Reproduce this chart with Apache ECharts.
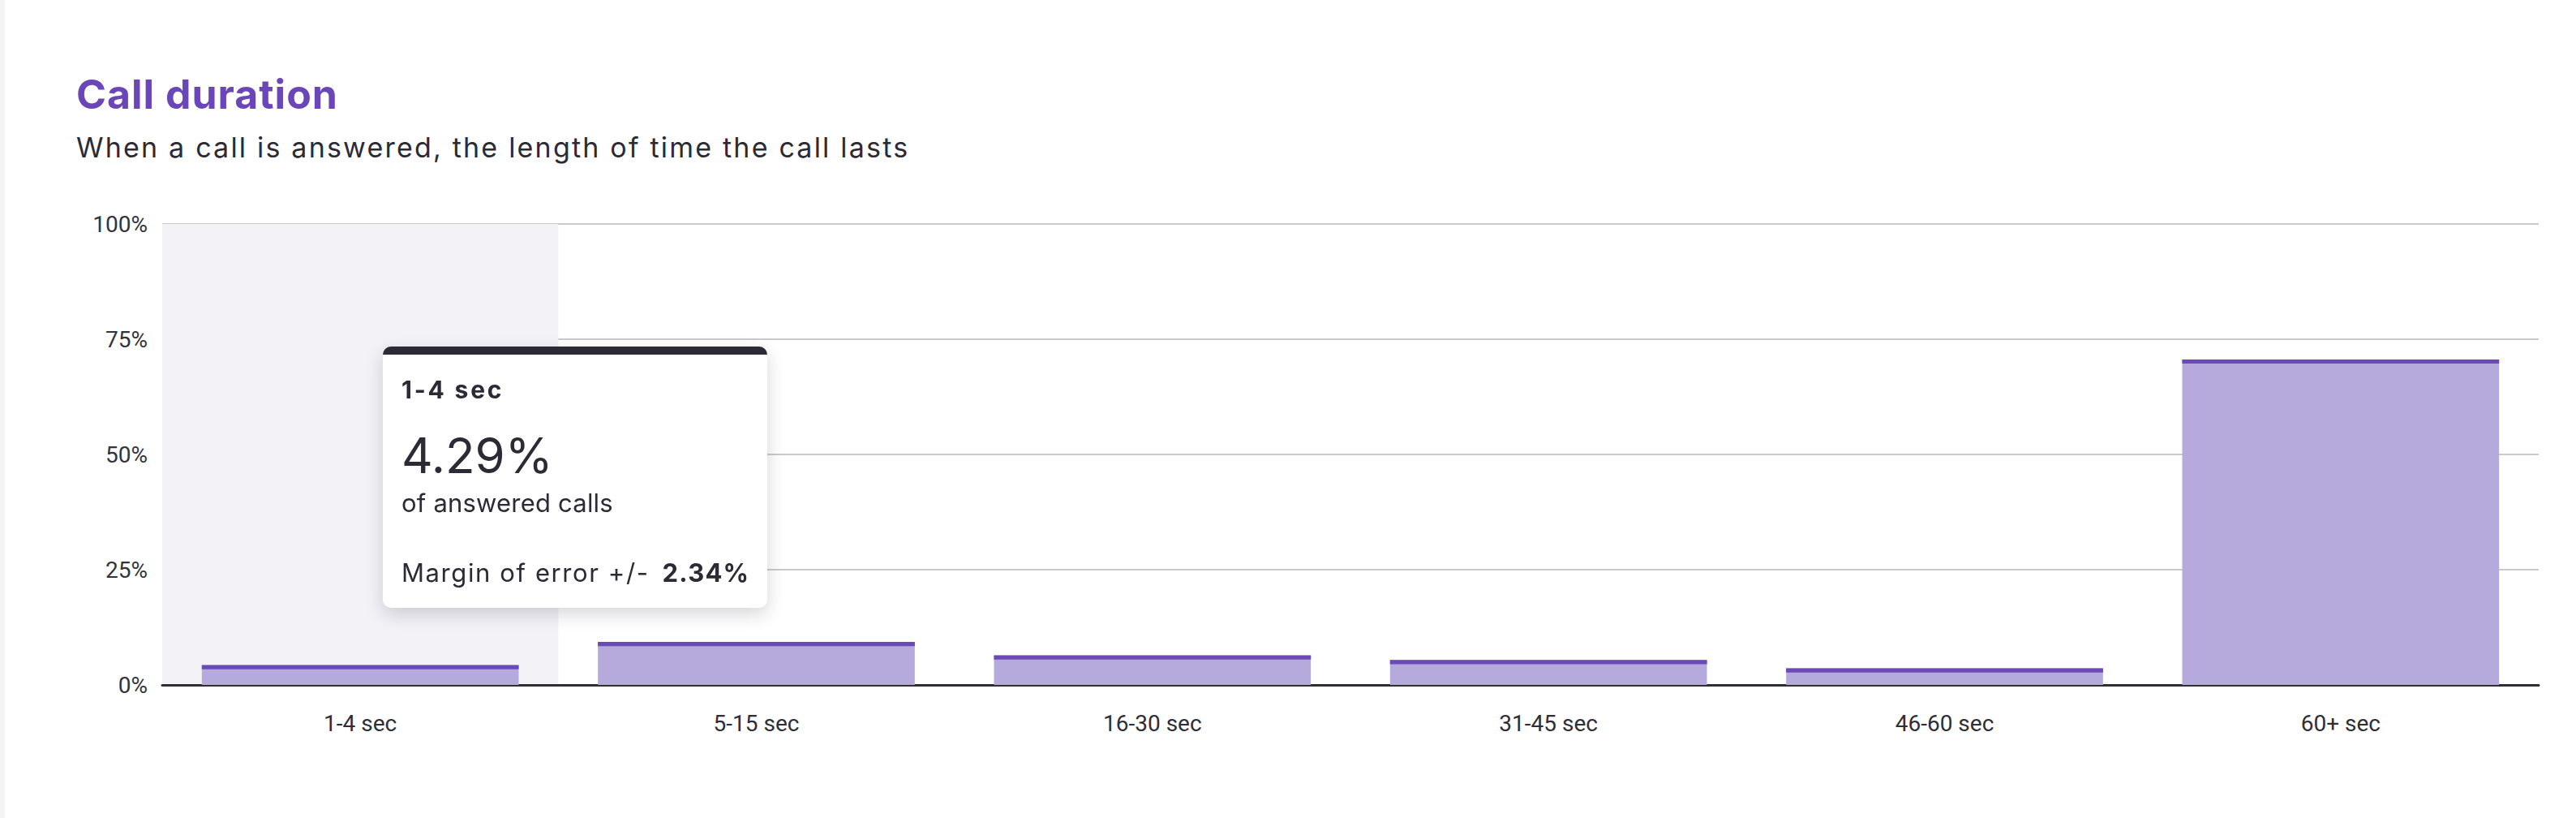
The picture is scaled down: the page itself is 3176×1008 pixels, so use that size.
<!DOCTYPE html>
<html>
<head>
<meta charset="utf-8">
<title>Call duration</title>
<script src="https://cdn.jsdelivr.net/npm/echarts@6/dist/echarts.min.js"></script>
<style>
    html, body { margin: 0; padding: 0; background: #fff; }
    body { border-left: 6px solid #f4f4f6; box-sizing: border-box; }
    #chart { width: 3170px; height: 1008px; }
    /* looser tracking for the heading texts (svg renderer) */
    #chart text[style*="50px"] { letter-spacing: 1px; }
    #chart text[style*="34px"] { letter-spacing: 2.2px; }
</style>
</head>
<body>
<div id="chart"></div>
<script>
// data
var categories = ['1-4 sec', '5-15 sec', '16-30 sec', '31-45 sec', '46-60 sec', '60+ sec'];
var percentValues = [4.29, 9.3, 6.4, 5.4, 3.6, 70.6];
var marginOfError = [2.34, null, null, null, null, null];
var yTicks = [0, 25, 50, 75, 100];

var chartTitle = 'Call duration';
var chartSubtitle = 'When a call is answered, the length of time the call lasts';

var FONT = 'Inter, "Noto Sans", sans-serif';
var AXIS_FONT = 'Roboto, "Liberation Sans", sans-serif';

function tooltipHtml(params) {
    var i = params[0].dataIndex;
    var html = '<div style="font-family:' + FONT.replace(/"/g, "'") + ';color:#2b2a35;">';
    html += '<div style="font-size:30px;font-weight:700;line-height:35px;letter-spacing:2.8px;">' + categories[i] + '</div>';
    html += '<div style="font-size:60px;font-weight:400;line-height:72px;margin-top:27px;">' + percentValues[i] + '%</div>';
    html += '<div style="font-size:31px;line-height:37px;margin-top:4px;letter-spacing:0.2px;">of answered calls</div>';
    if (marginOfError[i] != null) {
        html += '<div style="font-size:31px;line-height:37px;margin-top:49px;letter-spacing:1.6px;">Margin of error +/-' +
            '<span style="font-weight:700;margin-left:16px;letter-spacing:1.2px;">' + marginOfError[i] + '%</span></div>';
    }
    html += '</div>';
    return html;
}

var myChart = echarts.init(document.getElementById('chart'), null, { renderer: 'svg' });
myChart.setOption({
    animation: false,
    title: [
        {
            text: chartTitle,
            left: 88, top: 91, padding: 0,
            textStyle: { fontFamily: FONT, fontSize: 50, fontWeight: 700, color: '#6a46b8' }
        },
        {
            text: chartSubtitle,
            left: 88, top: 164, padding: 0,
            textStyle: { fontFamily: FONT, fontSize: 34, fontWeight: 400, color: '#2b2a35' }
        }
    ],
    grid: { left: 194, right: 46, top: 276, bottom: 164, containLabel: false },
    tooltip: {
        trigger: 'axis',
        alwaysShowContent: true,
        transitionDuration: 0,
        showDelay: 0,
        axisPointer: { type: 'shadow', shadowStyle: { color: '#f3f2f7', opacity: 1 }, z: 0 },
        position: [466, 427],
        backgroundColor: '#ffffff',
        borderWidth: 0,
        padding: [26, 23, 25, 23],
        extraCssText: 'border-top:10px solid #2b2a35;border-radius:10px;width:474px;box-sizing:border-box;' +
            'box-shadow:0 8px 22px rgba(30,30,50,0.18);',
        formatter: tooltipHtml
    },
    xAxis: {
        type: 'category',
        data: categories,
        axisTick: { show: false },
        axisLine: { lineStyle: { color: '#2e2d38', width: 3 } },
        axisLabel: { fontFamily: AXIS_FONT, fontSize: 28, color: '#2f2e38', margin: 33 }
    },
    yAxis: {
        type: 'value',
        min: yTicks[0],
        max: yTicks[yTicks.length - 1],
        interval: 25,
        axisLine: { show: false },
        axisTick: { show: false },
        splitLine: { lineStyle: { color: '#c9c9cf', width: 2 } },
        axisLabel: {
            fontFamily: AXIS_FONT, fontSize: 28, color: '#34333d', margin: 18,
            formatter: function (v) { return v + '%'; }
        }
    },
    series: [
        {
            name: 'share',
            type: 'bar',
            barWidth: '80%',
            data: percentValues,
            itemStyle: { color: '#b6a9db' },
            emphasis: { disabled: true },
            z: 2
        },
        {
            name: 'cap',
            type: 'pictorialBar',
            barWidth: '80%',
            symbol: 'rect',
            symbolSize: ['100%', 5],
            symbolPosition: 'end',
            data: percentValues,
            itemStyle: { color: '#6a4bb6' },
            emphasis: { disabled: true },
            tooltip: { show: false },
            z: 3
        }
    ]
});

myChart.dispatchAction({ type: 'showTip', seriesIndex: 0, dataIndex: 0 });
</script>
</body>
</html>
